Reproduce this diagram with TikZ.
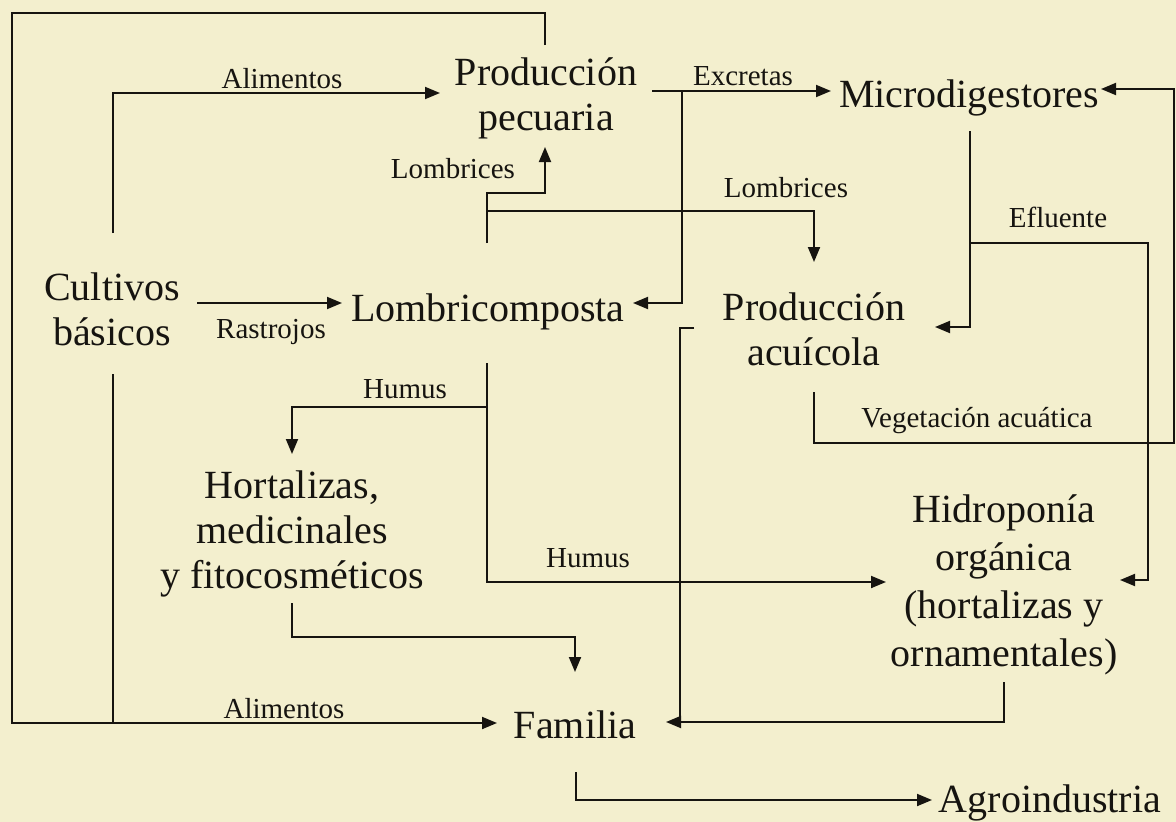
\documentclass[tikz,border=0pt]{standalone}
\usepackage{fontspec}
\setmainfont{Liberation Serif}
\usetikzlibrary{arrows.meta,calc}
\definecolor{paper}{RGB}{243,239,206}
\definecolor{ink}{RGB}{22,20,16}
\tikzset{
  box/.style={inner sep=0pt, outer sep=0pt, align=center, text=ink,
    font=\fontsize{40}{45}\selectfont},
  lbl/.style={inner sep=0pt, outer sep=0pt, anchor=base, text=ink,
    font=\fontsize{29}{32}\selectfont},
  con/.style={draw=ink, line width=1.9pt},
  arr/.style={con, -{Triangle[length=15pt,width=12pt]}}
}
\begin{document}
\begin{tikzpicture}[x=1pt,y=-1pt]
\fill[paper] (0,0) rectangle (1176,822);
\useasboundingbox (0,0) rectangle (1176,822);

% nodes
\node[box] (cult) at (112,309) {Cultivos\\básicos};
\node[box] (pec) at (546,98) {Producción\\pecuaria};
\node[box, anchor=base] (micro) at (969,107) {Microdigestores};
\node[box, anchor=base] (lomb) at (488,321) {Lombricomposta};
\node[box] (acui) at (814,329) {Producción\\acuícola};
\node[box] (hort) at (292,534) {Hortalizas,\\medicinales\\y fitocosméticos};
\node[box, font=\fontsize{40}{48}\selectfont] (hidro) at (1004,585) {Hidroponía\\orgánica\\(hortalizas y\\ornamentales)};
\node[box, anchor=base] (fam) at (575,738) {Familia};
\node[box, anchor=base] (agro) at (1050,812) {Agroindustria};

% labels
\node[lbl] (l1) at (282,88) {Alimentos};
\node[lbl] (l2) at (453,178) {Lombrices};
\node[lbl] (l3) at (271,338) {Rastrojos};
\node[lbl] (l4) at (405,398) {Humus};
\node[lbl] (l5) at (743,85) {Excretas};
\node[lbl] (l6) at (786,197) {Lombrices};
\node[lbl] (l7) at (1058,227) {Efluente};
\node[lbl] (l8) at (977,427) {Vegetación acuática};
\node[lbl] (l9) at (588,567) {Humus};
\node[lbl] (l10) at (284,718) {Alimentos};

% corner coordinates
\coordinate (tl) at (12,13);
\coordinate (jx) at (682,91);
\coordinate (ef) at (970,243);
\coordinate (vr) at (1174,443);

% connectors
\draw[arr] ($(pec.center)+(-1,-53)$) |- (tl) |- ($(fam.base)+(-78,-15)$);
\draw[con] ($(cult.center)+(1,65)$) -- ++(0,349);
\draw[arr] ($(cult.center)+(1,-76)$) |- ($(pec.center)+(-106,-5)$);
\draw[arr] ($(cult.center)+(85,-6)$) -- ($(lomb.base)+(-146,-18)$);
\draw[arr] ($(pec.center)+(106,-7)$) -- ($(micro.base)+(-138,-16)$);
\draw[arr] (jx) |- ($(lomb.base)+(145,-18)$);
\draw[arr] ($(lomb.base)+(-1,-78)$) -- ++(0,-50) -| ($(pec.center)+(-1,49)$);
\draw[arr] ($(lomb.base)+(-1,-110)$) -| ($(acui.center)+(0,-67)$);
\draw[arr] ($(micro.base)+(1,24)$) |- ($(acui.center)+(121,-2)$);
\draw[arr] (ef) -- ++(178,0) |- ($(hidro.center)+(116,-5)$);
\draw[arr] ($(acui.center)+(0,63)$) |- (vr) |- ($(micro.base)+(132,-18)$);
\draw[con] ($(acui.center)+(-120,-1)$) -- ++(-14,0) -- ++(0,394);
\draw[arr] ($(hidro.center)+(0,97)$) |- ($(fam.base)+(91,-16)$);
\draw[arr] ($(lomb.base)+(-1,42)$) |- ($(hidro.center)+(-118,-3)$);
\draw[arr] ($(lomb.base)+(-1,86)$) -| ($(hort.center)+(0,-80)$);
\draw[arr] ($(hort.center)+(0,69)$) -- ++(0,34) -| ($(fam.base)+(0,-66)$);
\draw[arr] ($(fam.base)+(1,34)$) |- ($(agro.base)+(-118,-12)$);
\end{tikzpicture}
\end{document}
